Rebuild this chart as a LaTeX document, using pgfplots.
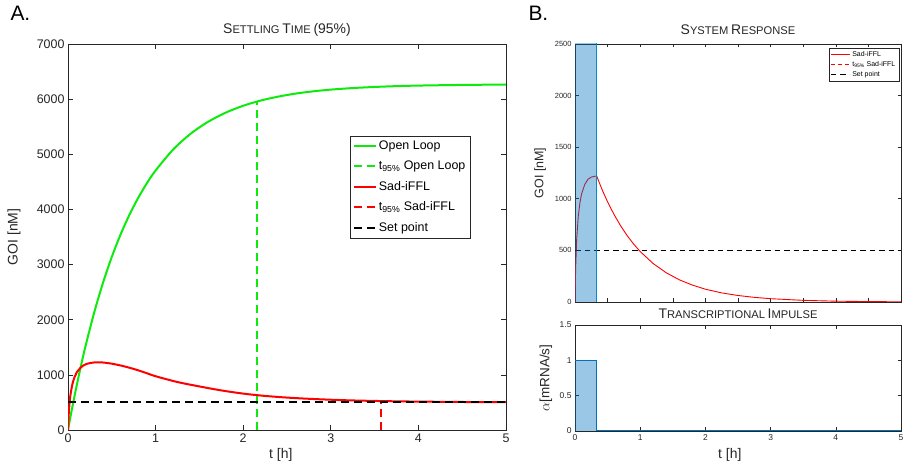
\documentclass[border=0pt]{standalone}
\usepackage{pgfplots}
\pgfplotsset{compat=1.18}
\usepackage{fontspec}
\setmainfont{Liberation Sans}
\definecolor{mgreen}{rgb}{0.05,0.92,0.05}
\definecolor{mred}{rgb}{1,0,0}
\definecolor{mblue}{rgb}{0,0.447,0.741}
\definecolor{tickgray}{rgb}{0.15,0.15,0.15}
\newcommand{\fs}[1]{\fontsize{#1}{#1}\selectfont}
\newcommand{\SC}[2]{{\fs{14}#1}{\fs{11.2}#2}}
\pgfplotsset{
  mystyle/.style={
    scale only axis, anchor=south west,
    axis line style={tickgray, line width=0.6bp},
    tick style={tickgray, line width=0.6bp},
    tick align=inside, major tick length=5bp,
    xmin=0, xmax=5,
    scaled ticks=false,
    /pgf/number format/1000 sep={},
    /pgf/number format/assume math mode=true,
    tick label style={text=tickgray},
    label style={text=tickgray},
    title style={text=black!85},
    legend cell align=left,
  },
  thickline/.style={line width=2bp},
  thickdash/.style={line width=2.1bp, dash pattern=on 8bp off 5bp},
}
\begin{document}
\begin{tikzpicture}
\path[use as bounding box] (0,0) rectangle (905bp,467bp);
\node[anchor=west, font=\fs{21}] at (7bp,454bp) {A.};
\node[anchor=west, font=\fs{21}] at (525bp,454bp) {B.};

% ---------------- Left panel ----------------
\begin{axis}[mystyle,
  at={(68bp,37bp)}, width=438bp, height=386bp,
  ymin=0, ymax=7000,
  xtick={0,1,2,3,4,5}, ytick={0,1000,2000,3000,4000,5000,6000,7000},
  tick label style={font=\fs{12.5}},
  xlabel={t [h]}, ylabel={GOI [nM]},
  xlabel style={at={(axis description cs:0.486,-0.065)}, anchor=center, font=\fs{14}},
  ylabel style={at={(axis description cs:-0.123,0.5)}, anchor=center, font=\fs{14}},
  title={\SC{S}{ETTLING} \SC{T}{IME} {\fs{14}(95\%)}},
  title style={at={(axis description cs:0.5,1)}, anchor=center, yshift=8bp},
  legend style={at={(0.643,0.762)}, anchor=north west, font=\fs{12.5}, draw=tickgray,
    row sep=6bp, inner xsep=3bp, inner ysep=3bp},
  legend image code/.code={\draw[mark repeat=2,mark phase=2] plot coordinates {(0bp,0bp) (11bp,0bp) (22bp,0bp)};},
]
\addlegendimage{mgreen, thickline}
\addlegendentry{Open Loop}
\addlegendimage{mgreen, thickdash}
\addlegendentry{t\textsubscript{95\%} Open Loop}
\addlegendimage{mred, thickline}
\addlegendentry{Sad-iFFL}
\addlegendimage{mred, thickdash}
\addlegendentry{t\textsubscript{95\%} Sad-iFFL}
\addlegendimage{black, thickdash}
\addlegendentry{Set point}
\addplot[forget plot, mgreen, thickline, smooth] coordinates {
(0,0)(0.025,214)(0.05,421)(0.1,813)(0.15,1179)(0.2,1521)(0.3,2136)(0.4,2672)(0.5,3139)(0.6,3545)(0.7,3898)(0.8,4206)(0.9,4474)(1.0,4706)(1.2,5086)(1.4,5373)(1.6,5590)(1.8,5755)(2.0,5880)(2.2,5975)(2.4,6046)(2.6,6101)(2.8,6142)(3.0,6173)(3.25,6201)(3.5,6221)(3.75,6236)(4.0,6246)(4.5,6258)(5.0,6264)};
\addplot[forget plot, mgreen, thickdash] coordinates {(2.16,0)(2.16,5951)};
\addplot[forget plot, mred, thickline, smooth] coordinates {
(0,0)(0.01,330)(0.025,600)(0.05,830)(0.075,960)(0.1,1045)(0.15,1140)(0.2,1190)(0.25,1214)(0.3,1225)(0.35,1228)(0.4,1224)(0.5,1203)(0.6,1170)(0.7,1130)(0.8,1083)(0.9,1030)(1.0,975)(1.25,870)(1.5,790)(1.75,718)(2.0,660)(2.25,618)(2.5,588)(2.75,566)(3.0,549)(3.25,536)(3.5,527)(3.75,520)(4.0,515)(4.5,508)(5.0,505)};
\addplot[forget plot, mred, thickdash] coordinates {(3.57,0)(3.57,525)};
\addplot[forget plot, black, thickdash] coordinates {(0,500)(5,500)};
\end{axis}

% ---------------- Right top panel ----------------
\begin{axis}[mystyle,
  at={(575bp,165bp)}, width=326bp, height=258bp,
  ymin=0, ymax=2500,
  xtick={0,0.5,1,1.5,2,2.5,3,3.5,4,4.5,5}, xticklabels={},
  ytick={0,500,1000,1500,2000,2500},
  major tick length=3.5bp,
  tick label style={font=\fs{7.5}},
  ylabel={GOI [nM]},
  ylabel style={at={(axis description cs:-0.107,0.5)}, anchor=center, font=\fs{12.5}},
  title={\SC{S}{YSTEM} \SC{R}{ESPONSE}},
  title style={at={(axis description cs:0.5,1)}, anchor=center, yshift=8bp},
  legend style={at={(0.994,0.984)}, anchor=north east, font=\fs{7}, draw=tickgray,
    row sep=-0.5bp, inner xsep=1.5bp, inner ysep=1bp},
  legend image code/.code={\draw[mark repeat=2,mark phase=2] plot coordinates {(0bp,0bp) (9.5bp,0bp) (19bp,0bp)};},
]
\addplot[mred, line width=0.9bp] coordinates {
(0,0)(0.01,330)(0.025,600)(0.05,830)(0.075,960)(0.1,1045)(0.15,1140)(0.2,1190)(0.25,1210)(0.3,1218)(0.333,1220)(0.4,1113)(0.45,1039)(0.5,970)(0.6,846)(0.7,738)(0.8,643)(0.9,561)(1.0,489)(1.2,372)(1.4,283)(1.6,215)(1.8,164)(2.0,124)(2.25,88)(2.5,63)(2.75,45)(3.0,32)(3.5,16)(4.0,8)(4.5,4)(5.0,2)};
\addlegendentry{Sad-iFFL}
\addlegendimage{mred, line width=0.9bp, dash pattern=on 4bp off 3bp}
\addlegendentry{t\textsubscript{95\%} Sad-iFFL}
\addplot[black, line width=0.9bp, dash pattern=on 5.5bp off 4bp] coordinates {(0,500)(5,500)};
\addlegendentry{Set point}
\addplot[forget plot, draw=none, fill=mblue, fill opacity=0.4] coordinates {(0,3000)(0.333,3000)} \closedcycle;
\addplot[forget plot, mblue!80!cyan, line width=1.3bp] coordinates {(0.333,0)(0.333,3000)};
\end{axis}

% ---------------- Right bottom panel ----------------
\begin{axis}[mystyle,
  at={(575bp,36bp)}, width=326bp, height=106bp,
  ymin=0, ymax=1.5,
  xtick={0,1,2,3,4,5},
  ytick={0,0.5,1,1.5},
  major tick length=3.5bp,
  tick label style={font=\fs{8.5}},
  xlabel={t [h]}, ylabel={$\alpha$[mRNA/s]},
  xlabel style={at={(axis description cs:0.475,-0.226)}, anchor=center, font=\fs{14}},
  ylabel style={at={(axis description cs:-0.089,0.5)}, anchor=center, font=\fs{13.5}},
  title={\SC{T}{RANSCRIPTIONAL} \SC{I}{MPULSE}},
  title style={at={(axis description cs:0.5,1)}, anchor=center, yshift=5bp},
]
\addplot[draw=none, fill=mblue, fill opacity=0.4] coordinates {(0,1)(0.333,1)} \closedcycle;
\addplot[mblue, line width=1.1bp] coordinates {(0,1)(0.333,1)(0.333,0)(5,0)};
\end{axis}
\end{tikzpicture}
\end{document}
